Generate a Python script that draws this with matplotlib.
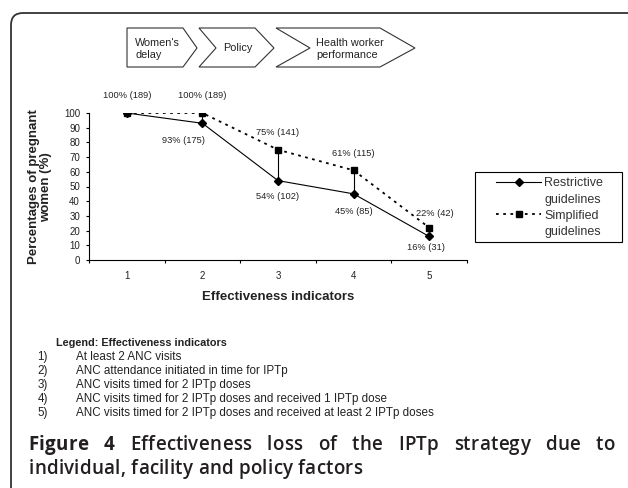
import numpy as np
import matplotlib
matplotlib.use("Agg")
import matplotlib.pyplot as plt
from matplotlib.patches import Polygon, FancyBboxPatch, Rectangle
from matplotlib.lines import Line2D
from matplotlib.ticker import FixedLocator, NullFormatter

# data
indicators = [1, 2, 3, 4, 5]
restrictive = [100, 93, 54, 45, 16]
restrictive_n = [189, 175, 102, 85, 31]
simplified = [100, 100, 75, 61, 22]
simplified_n = [189, 189, 141, 115, 42]

stages = ["Women's\ndelay", "Policy", "Health worker\nperformance"]
legend_title = "Legend: Effectiveness indicators"
indicator_names = [
    "At least 2 ANC visits",
    "ANC attendance initiated in time for IPTp",
    "ANC visits timed for 2 IPTp doses",
    "ANC visits timed for 2 IPTp doses and received 1 IPTp dose",
    "ANC visits timed for 2 IPTp doses and received at least 2 IPTp doses",
]
caption_line1 = ["Figure", "4", "Effectiveness", "loss", "of", "the", "IPTp", "strategy", "due", "to"]
caption_line2 = "individual, facility and policy factors"

W, H = 628, 488
plt.rcParams['font.family'] = ['Liberation Sans', 'DejaVu Sans']
fig = plt.figure(figsize=(W / 100, H / 100), dpi=100)
renderer = fig.canvas.get_renderer()

# pixel-space background axes for frame / decorations
bg = fig.add_axes([0, 0, 1, 1], zorder=0)
bg.set_xlim(0, W)
bg.set_ylim(H, 0)
bg.axis('off')


def px_rect(x0, y0, x1, y1):
    return [x0 / W, 1 - y1 / H, (x1 - x0) / W, (y1 - y0) / H]


# outer rounded frame (runs off the right and bottom)
bg.add_patch(FancyBboxPatch((11, 13), 700, 520, boxstyle="round,pad=0,rounding_size=12",
                            fc='none', ec='#333333', lw=1.3))

# chevrons on top
chev = [
    [(127, 28), (183, 28), (197, 48), (183, 67), (127, 67)],
    [(199, 28), (255, 28), (274, 48), (255, 67), (199, 67), (216, 48)],
    [(276, 28), (380, 28), (415, 48), (380, 67), (276, 67), (310, 48)],
]
for pts in chev:
    bg.add_patch(Polygon(pts, closed=True, fc='white', ec='#333333', lw=0.8))
bg.text(135, 49, stages[0], ha='left', va='center', fontsize=7.8, color='#222222', linespacing=1.25)
bg.text(238, 48, stages[1], ha='center', va='center', fontsize=7.8, color='#222222')
bg.text(316, 49, stages[2], ha='left', va='center', fontsize=7.8, color='#222222', linespacing=1.25)

# main chart
ax = fig.add_axes(px_rect(89, 113, 467, 260), zorder=2)
ax.patch.set_alpha(0)
ax.vlines(indicators, restrictive, simplified, color='black', lw=0.8)
l_rest, = ax.plot(indicators, restrictive, color='black', lw=0.8, marker='D', ms=4.5,
                  label='Restrictive')
l_simp, = ax.plot(indicators, simplified, color='black', lw=1.3, ls=(0, (1.5, 2.5)),
                  marker='s', ms=5, label='Simplified')

simp_off = [(0, -17), (0, -17), (0, -17), (0, -17), (6, -14)]
rest_off = [None, (-19, 17), (0, 16), (0, 18), (-3, 11)]
for x, v, n, off in zip(indicators, simplified, simplified_n, simp_off):
    ax.annotate(f"{v}% ({n})", (x, v), xytext=(off[0] * 0.72, -off[1] * 0.72),
                textcoords='offset points', ha='center', va='center',
                fontsize=6.7, color='#222222')
for x, v, n, off in zip(indicators, restrictive, restrictive_n, rest_off):
    if off is None:
        continue
    ax.annotate(f"{v}% ({n})", (x, v), xytext=(off[0] * 0.72, -off[1] * 0.72),
                textcoords='offset points', ha='center', va='center',
                fontsize=6.7, color='#222222')

ax.set_xlim(0.5, 5.5)
ax.set_ylim(0, 100)
for s in ['top', 'right']:
    ax.spines[s].set_visible(False)
for s in ['left', 'bottom']:
    ax.spines[s].set_linewidth(0.8)
ax.set_yticks(range(0, 101, 10))
ax.tick_params(axis='y', length=2.2, width=0.8, pad=4.3, labelsize=7, labelcolor='#222222')
ax.xaxis.set_major_locator(FixedLocator(np.arange(0.5, 6, 1)))
ax.xaxis.set_major_formatter(NullFormatter())
ax.set_xticks(indicators, minor=True)
ax.set_xticklabels([str(i) for i in indicators], minor=True)
ax.tick_params(axis='x', which='major', length=2.2, width=0.8)
ax.tick_params(axis='x', which='minor', length=0, pad=8, labelsize=7, labelcolor='#222222')

bg.text(278, 297, "Effectiveness indicators", ha='center', va='center',
        fontsize=9.5, fontweight='bold', color='#222222')
bg.text(40, 187, "Percentages of pregnant\nwomen (%)", ha='center', va='center',
        rotation=90, fontsize=9.5, fontweight='bold', color='#222222', linespacing=1.1)

# series legend: text content through legend, frame drawn separately
blank = Line2D([], [], ls='none')
leg = ax.legend([l_rest, blank, l_simp, blank],
                ["Restrictive", "guidelines", "Simplified", "guidelines"],
                loc='upper left', bbox_to_anchor=(496, 177.5), bbox_transform=bg.transData,
                frameon=False, fontsize=9, handlelength=3.6, handletextpad=0.25,
                labelspacing=0.33, borderpad=0, borderaxespad=0)
for t in leg.get_texts():
    t.set_color('#333333')
bg.add_patch(Rectangle((475, 172), 147, 70, fc='white', ec='black', lw=0.8))

# indicator legend text
bg.text(56, 343, legend_title, ha='left', va='center', fontsize=7.8, fontweight='bold',
        color='#222222')
for i, name in enumerate(indicator_names):
    y = 357 + i * 14.1
    bg.text(48, y, f"{i + 1})", ha='right', va='center', fontsize=8.4, color='#222222')
    bg.text(76, y, name, ha='left', va='center', fontsize=8.4, color='#222222')

# caption: letter-spaced, first line justified
cap_kw = dict(fontsize=13.5, color='#231f20', family=['Open Sans', 'DejaVu Sans'], va='center')


def char_texts(word, y, weight):
    items = []
    for ch in word:
        t = bg.text(0, y, ch, ha='left', fontweight=weight, **cap_kw)
        items.append((t, t.get_window_extent(renderer).width))
    return items


def place(items, x, track):
    for t, w in items:
        t.set_x(x)
        x += w + track
    return x - track


def word_width(items, track):
    return sum(w for _, w in items) + track * (len(items) - 1)


# space width from the font itself
a1 = bg.text(0, 0, "a a", fontweight='semibold', **cap_kw)
a2 = bg.text(0, 0, "aa", fontweight='semibold', **cap_kw)
space = a1.get_window_extent(renderer).width - a2.get_window_extent(renderer).width
a1.remove()
a2.remove()

# line 2: pick tracking so it runs from 29 to 362
l2_words = [char_texts(w, 469, 'semibold') for w in caption_line2.split()]
nchars = sum(len(w) for w in l2_words) + len(l2_words) - 1
natural = sum(w for it in l2_words for _, w in it) + space * (len(l2_words) - 1)
track = (362 - 29 - natural) / (nchars - 1)
x = 29
for it in l2_words:
    x = place(it, x, track) + space + 2 * track

# line 1: same tracking, justified 28 -> 615
l1_words = [char_texts(w, 445, 'bold' if j < 2 else 'semibold') for j, w in enumerate(caption_line1)]
widths = [word_width(it, track) for it in l1_words]
gap = (615 - 28 - sum(widths)) / (len(l1_words) - 1)
x = 28
for it, w in zip(l1_words, widths):
    place(it, x, track)
    x += w + gap

fig.savefig("out.png", dpi=100)
